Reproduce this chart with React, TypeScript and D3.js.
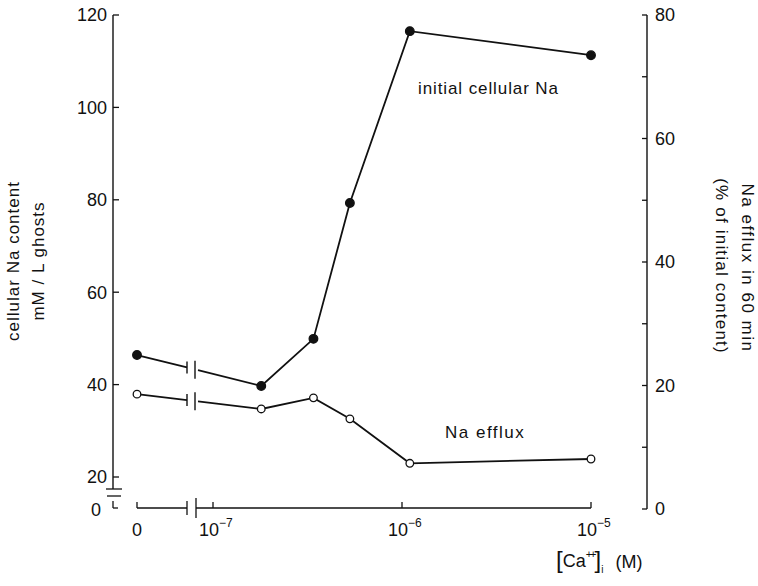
import React from "react";
import * as d3 from "d3";

// ---- data ----
const concentrations = [0, 1.8e-7, 3.4e-7, 5.3e-7, 1.1e-6, 1e-5];
const cellularNa = [46.4, 39.7, 49.9, 79.3, 116.5, 111.3]; // left axis, mM/L ghosts
const naEfflux = [18.6, 16.2, 18.0, 14.6, 7.4, 8.1]; // right axis, % of initial content
const leftTicks = [20, 40, 60, 80, 100, 120];
const rightMajorTicks = [0, 20, 40, 60, 80];
const rightMinorTicks = [10, 30, 50, 70];
const xTicks = [1e-7, 1e-6, 1e-5];
const xTickExponents = ["−7", "−6", "−5"];

const W = 758;
const H = 586;
const FONT = "'Liberation Sans', Arial, sans-serif";

export default function App() {
  const x = d3.scaleLog().domain([1e-7, 1e-5]).range([213, 591]);
  const zeroX = 137;
  const xp = (c: number) => (c === 0 ? zeroX : x(c));
  const yL = d3.scaleLinear().domain([20, 120]).range([477, 15]);
  const yR = d3.scaleLinear().domain([0, 80]).range([509, 15]);
  const axisY = 508;
  const leftX = 113;
  const rightX = 647;
  const br1 = 187;
  const br2 = 196;

  const line = d3.line<[number, number]>().x((d) => d[0]).y((d) => d[1]);

  const series = [
    { vals: cellularNa, y: yL, filled: true },
    { vals: naEfflux, y: yR, filled: false },
  ];

  const renderSeries = (s: typeof series[0], i: number) => {
    const pts: [number, number][] = concentrations.map((c, k) => [xp(c), s.y(s.vals[k])]);
    const [p0, p1] = pts;
    const interp = (xx: number) => p0[1] + ((xx - p0[0]) / (p1[0] - p0[0])) * (p1[1] - p0[1]);
    const seg1: [number, number][] = [p0, [br1, interp(br1)]];
    const seg2: [number, number][] = [[br2 + 2, interp(br2 + 2)], ...pts.slice(1)];
    return (
      <g key={i}>
        <path d={line(seg1) || ""} fill="none" stroke="#111" strokeWidth={1.8} />
        <path d={line(seg2) || ""} fill="none" stroke="#111" strokeWidth={1.8} />
        <line x1={br1} x2={br1} y1={interp(br1) - 6} y2={interp(br1) + 6} stroke="#111" strokeWidth={1.4} />
        <line x1={br2 - 1} x2={br2 - 1} y1={interp(br2) - 9} y2={interp(br2) + 9} stroke="#111" strokeWidth={1.4} />
        {pts.map((p, k) => (
          <circle
            key={k}
            cx={p[0]}
            cy={p[1]}
            r={s.filled ? 4.3 : 3.8}
            fill={s.filled ? "#111" : "#fff"}
            stroke="#111"
            strokeWidth={1.3}
          />
        ))}
      </g>
    );
  };

  return (
    <svg
      width={W}
      height={H}
      style={{ position: "absolute", left: 0, top: 0, background: "#fff" }}
      fontFamily={FONT}
    >
      <rect width={W} height={H} fill="#fff" />
      {/* left axis */}
      <line x1={leftX} x2={leftX} y1={yL(120)} y2={489} stroke="#111" strokeWidth={1.4} />
      {leftTicks.map((t) => (
        <g key={t}>
          <line x1={leftX} x2={leftX + 6} y1={yL(t)} y2={yL(t)} stroke="#111" strokeWidth={1.3} />
          <text x={107} y={yL(t)} dy="0.36em" textAnchor="end" fontSize={18} fill="#111">
            {t}
          </text>
        </g>
      ))}
      {/* left axis break */}
      <line x1={106} x2={122} y1={489} y2={489} stroke="#111" strokeWidth={1.3} />
      <line x1={107} x2={121} y1={496} y2={496} stroke="#111" strokeWidth={1.3} />
      <line x1={leftX} x2={leftX} y1={501} y2={axisY} stroke="#111" strokeWidth={1.3} />
      <line x1={leftX} x2={leftX + 5} y1={axisY} y2={axisY} stroke="#111" strokeWidth={1.3} />
      <text x={101} y={axisY + 2} dy="0.36em" textAnchor="end" fontSize={18} fill="#111">
        0
      </text>

      {/* right axis */}
      <line x1={rightX} x2={rightX} y1={yR(80)} y2={yR(0)} stroke="#111" strokeWidth={1.4} />
      {rightMajorTicks.concat(rightMinorTicks).map((t) => (
        <line key={t} x1={rightX - 5} x2={rightX} y1={yR(t)} y2={yR(t)} stroke="#111" strokeWidth={1.3} />
      ))}
      {rightMajorTicks.map((t) => (
        <text key={t} x={655} y={yR(t)} dy="0.36em" textAnchor="start" fontSize={18} fill="#111">
          {t}
        </text>
      ))}

      {/* x axis */}
      <line x1={zeroX} x2={br1} y1={axisY} y2={axisY} stroke="#111" strokeWidth={1.4} />
      <line x1={zeroX} x2={zeroX} y1={axisY - 6} y2={axisY} stroke="#111" strokeWidth={1.3} />
      <line x1={br1} x2={br1} y1={axisY - 7} y2={axisY + 7} stroke="#111" strokeWidth={1.3} />
      <line x1={br2} x2={br2} y1={axisY - 10} y2={axisY + 10} stroke="#111" strokeWidth={1.3} />
      <line x1={br2} x2={x(1e-5)} y1={axisY} y2={axisY} stroke="#111" strokeWidth={1.4} />
      {xTicks.map((t) => (
        <line key={t} x1={x(t)} x2={x(t)} y1={axisY - 6} y2={axisY} stroke="#111" strokeWidth={1.3} />
      ))}
      <text x={zeroX} y={536} textAnchor="middle" fontSize={18} fill="#111">
        0
      </text>
      {xTicks.map((t, i) => (
        <text key={t} x={x(t) - 14} y={536} textAnchor="start" fontSize={18} fill="#111">
          10
          <tspan dy={-9} fontSize={12}>
            {xTickExponents[i]}
          </tspan>
        </text>
      ))}

      {/* x axis title */}
      <text x={556} y={567} fontSize={18} fill="#111">
        <tspan fontSize={24} dy={1}>[</tspan>
        <tspan fontSize={18} dy={-1}>Ca</tspan>
        <tspan fontSize={11} dy={-9} letterSpacing={-2}>++</tspan>
        <tspan fontSize={24} dy={10}>]</tspan>
        <tspan fontSize={10} dy={5}>i</tspan>
        <tspan fontSize={18} dy={-5} dx={12}>(M)</tspan>
      </text>

      {/* annotations */}
      <text x={418} y={94} fontSize={17} letterSpacing={0.9} fill="#111">
        initial cellular Na
      </text>
      <text x={445} y={438} fontSize={17} letterSpacing={1.5} fill="#111">
        Na efflux
      </text>

      {/* left title */}
      <g transform="translate(13,261) rotate(-90)">
        <text textAnchor="middle" dominantBaseline="central" fontSize={17} letterSpacing={1} fill="#111">
          cellular Na content
        </text>
      </g>
      <g transform="translate(38,261) rotate(-90)">
        <text textAnchor="middle" dominantBaseline="central" fontSize={17} letterSpacing={1} fill="#111">
          mM / L ghosts
        </text>
      </g>

      {/* right title */}
      <g transform="translate(747,268) rotate(90)">
        <text textAnchor="middle" dominantBaseline="central" fontSize={17} letterSpacing={1.5} fill="#111">
          Na efflux in 60 min
        </text>
      </g>
      <g transform="translate(721,266) rotate(90)">
        <text textAnchor="middle" dominantBaseline="central" fontSize={17} letterSpacing={1.2} fill="#111">
          (% of initial content)
        </text>
      </g>

      {series.map(renderSeries)}
    </svg>
  );
}
